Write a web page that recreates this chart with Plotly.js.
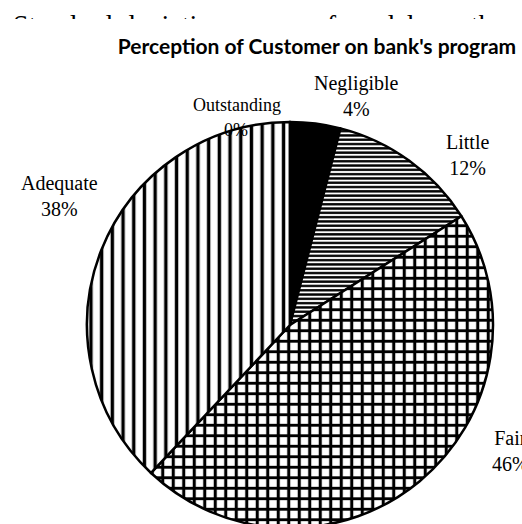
<!DOCTYPE html>
<html>
<head>
<meta charset="utf-8">
<script src="https://cdn.plot.ly/plotly-3.0.1.min.js"></script>
<style>
  html, body { margin: 0; padding: 0; background: #fff; overflow: hidden; }
  #wrap { position: relative; width: 522px; height: 524px; overflow: hidden; }
  #chart { position: absolute; left: 0; top: 0; }
  #doctext { position: absolute; left: 0; top: 0; width: 522px; height: 19px; overflow: hidden; z-index: 5; }
  #doctext div { position: absolute; left: 13px; top: 11px; width: 492px; font-family: "Liberation Serif", serif;
    font-size: 28px; line-height: 28px; white-space: nowrap; text-align: justify; text-align-last: justify; color: #000; }
</style>
</head>
<body>
<div id="wrap">
  <div id="chart"></div>
  <div id="doctext"><div>Standard deviation scores of models on the</div></div>
</div>
<script>
// ---- data ----
const chartTitle = "Perception of Customer on bank's program";
const categories = ["Negligible", "Little", "Fair", "Adequate", "Outstanding"];
const percentValues = [4, 12, 46, 38, 0];

// ---- styles ----
const W = 560, H = 560;
const sliceColors = ["#000000", "#ffffff", "#ffffff", "#ffffff", "#ffffff"];
const patternShapes = ["", "-", "+", "|", ""];
const patternSizes = [8, 4.3, 10.5, 10.7, 8];
const patternSolidity = [0.3, 0.55, 0.5, 0.32, 0.3];

// pie circle: center (290,325) radius 203 in pixels
const cx = 290, cy = 325, r = 203;

// label positions (pixel centres) and font sizes
const labelPos = {
  "Negligible": [356, 96, 20],
  "Little": [467, 155, 20],
  "Fair": [510, 451, 20],
  "Adequate": [59, 196, 20]
};

const annotations = [];
categories.forEach((c, i) => {
  if (labelPos[c]) {
    const p = labelPos[c];
    annotations.push({
      xref: 'paper', yref: 'paper', x: p[0] / W, y: 1 - p[1] / H,
      xanchor: 'center', yanchor: 'middle', showarrow: false,
      text: c + '<br>' + percentValues[i] + '%',
      font: { family: 'Liberation Serif', size: p[2], color: '#000' }
    });
  }
});
const oi = categories.indexOf("Outstanding");
annotations.push({
  xref: 'paper', yref: 'paper', x: 237 / W, y: 1 - 105 / H, xanchor: 'center', yanchor: 'middle',
  showarrow: false, text: categories[oi], font: { family: 'Liberation Serif', size: 18, color: '#000' }
});
annotations.push({
  xref: 'paper', yref: 'paper', x: 236 / W, y: 1 - 130 / H, xanchor: 'center', yanchor: 'middle',
  showarrow: false, text: percentValues[oi] + '%', font: { family: 'Liberation Serif', size: 18, color: '#000' }
});

const trace = {
  type: 'pie',
  labels: categories,
  values: percentValues,
  sort: false,
  direction: 'clockwise',
  rotation: 0,
  textinfo: 'none',
  hoverinfo: 'label+percent',
  domain: { x: [(cx - r) / W, (cx + r) / W], y: [(H - cy - r) / H, (H - cy + r) / H] },
  marker: {
    colors: sliceColors,
    line: { color: '#000', width: 2.5 },
    pattern: {
      shape: patternShapes,
      fgcolor: '#000',
      bgcolor: '#fff',
      size: patternSizes,
      solidity: patternSolidity,
      fillmode: 'replace'
    }
  }
};

const layout = {
  width: W, height: H,
  margin: { l: 0, r: 0, t: 0, b: 0 },
  paper_bgcolor: '#fff',
  showlegend: false,
  title: {
    text: '<b>' + chartTitle + '</b>',
    font: { family: 'Lato', size: 21, color: '#000' },
    x: 317 / W, xanchor: 'center', xref: 'paper',
    y: 1 - 47 / H, yanchor: 'middle', yref: 'paper'
  },
  annotations: annotations
};

Plotly.newPlot('chart', [trace], layout, { displayModeBar: false, staticPlot: true });
</script>
</body>
</html>
